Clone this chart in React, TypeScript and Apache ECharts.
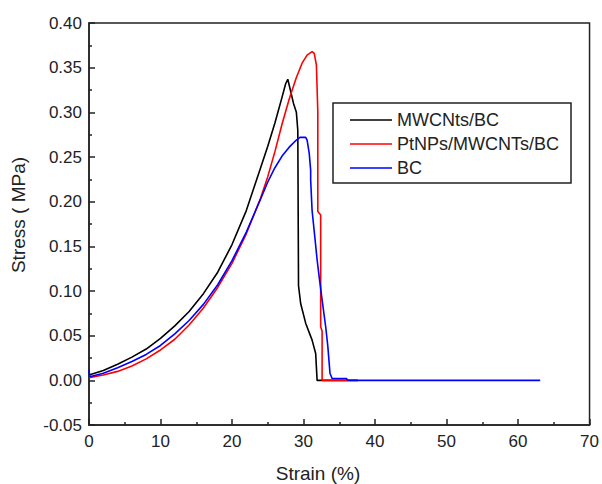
import React, { useEffect, useRef } from "react";
import * as echarts from "echarts";

// Strain (%) / Stress (MPa) pairs
const mwcntsBC: [number, number][] = [
  [0, 0.006], [2, 0.011], [4, 0.018], [6, 0.026], [8, 0.035], [10, 0.047],
  [12, 0.061], [14, 0.077], [16, 0.097], [18, 0.121], [20, 0.152],
  [22, 0.19], [24, 0.238], [25, 0.262], [26, 0.288], [27, 0.317],
  [27.5, 0.332], [27.8, 0.337], [28.1, 0.327], [28.6, 0.31], [29.0, 0.3],
  [29.2, 0.28], [29.3, 0.106], [29.6, 0.086], [30.3, 0.064], [31.2, 0.045],
  [31.7, 0.03], [31.9, 0.0], [37.6, 0.0],
];

const ptnpsMWCNTsBC: [number, number][] = [
  [0, 0.003], [2, 0.006], [4, 0.01], [6, 0.016], [8, 0.024], [10, 0.034],
  [12, 0.046], [14, 0.062], [16, 0.081], [18, 0.104], [20, 0.131],
  [22, 0.164], [24, 0.204], [25, 0.228], [26, 0.256], [27, 0.287],
  [28, 0.315], [29, 0.339], [29.8, 0.355], [30.5, 0.364], [31.2, 0.368],
  [31.5, 0.366], [31.8, 0.353], [32.0, 0.3], [32.0, 0.189], [32.4, 0.185],
  [32.4, 0.06], [32.6, 0.055], [32.6, 0.0], [36.2, 0.0],
];

const bc: [number, number][] = [
  [0, 0.012], [0.1, 0.004], [2, 0.008], [4, 0.014], [6, 0.021], [8, 0.029],
  [10, 0.039], [12, 0.052], [14, 0.067], [16, 0.085], [18, 0.107],
  [20, 0.134], [22, 0.166], [24, 0.203], [25, 0.222], [26, 0.238],
  [27, 0.251], [28, 0.261], [29, 0.269], [29.5, 0.272], [30.3, 0.272],
  [30.5, 0.269], [30.8, 0.254], [31.0, 0.235], [31.0, 0.224], [31.2, 0.19],
  [31.6, 0.159], [31.9, 0.135], [32.2, 0.115], [32.6, 0.09], [33.1, 0.06],
  [33.4, 0.038], [33.7, 0.008], [34.0, 0.002], [36.0, 0.002], [36.2, 0.0],
  [63.1, 0.0],
];

const seriesNames = ["MWCNts/BC", "PtNPs/MWCNTs/BC", "BC"];
const seriesColors = ["#000000", "#ff0000", "#0000ff"];
const xTitle = "Strain (%)";
const yTitle = "Stress ( MPa)";

const FONT = "Arial, 'Liberation Sans', sans-serif";

export default function App() {
  const ref = useRef<HTMLDivElement>(null);
  useEffect(() => {
    document.body.style.margin = "0";
    const chart = echarts.init(ref.current!, null, { renderer: "svg" });
    const datasets = [mwcntsBC, ptnpsMWCNTsBC, bc];
    chart.setOption({
      animation: false,
      backgroundColor: "#ffffff",
      grid: {
        left: 89,
        top: 23,
        right: 10,
        bottom: 59,
        show: true,
        borderColor: "#222",
        borderWidth: 1.5,
        backgroundColor: "transparent",
      },
      legend: {
        orient: "vertical",
        left: 333,
        top: 103,
        padding: [8, 12, 6, 17],
        itemGap: 6,
        itemWidth: 42,
        itemHeight: 1.6,
        icon: "rect",
        borderColor: "#222",
        borderWidth: 1.5,
        textStyle: { fontSize: 18, fontFamily: FONT, color: "#222", lineHeight: 18 },
        data: seriesNames,
      },
      xAxis: {
        type: "value",
        min: 0,
        max: 70,
        interval: 10,
        axisLine: { show: true, onZero: false, lineStyle: { color: "#222", width: 1.5 } },
        axisTick: { show: true, inside: true, length: 6, lineStyle: { color: "#222", width: 1.5 } },
        minorTick: { show: true, splitNumber: 2, length: 3, lineStyle: { color: "#222", width: 1.5 } },
        splitLine: { show: false },
        axisLabel: { fontSize: 17, fontFamily: FONT, color: "#222", margin: 8 },
      },
      yAxis: {
        type: "value",
        min: -0.05,
        max: 0.4,
        interval: 0.05,
        axisLine: { show: true, onZero: false, lineStyle: { color: "#222", width: 1.5 } },
        axisTick: { show: true, inside: true, length: 6, lineStyle: { color: "#222", width: 1.5 } },
        minorTick: { show: true, splitNumber: 2, length: 3, lineStyle: { color: "#222", width: 1.5 } },
        splitLine: { show: false },
        axisLabel: {
          fontSize: 17,
          fontFamily: FONT,
          color: "#222",
          margin: 7,
          formatter: (v: number) => v.toFixed(2),
        },
      },
      graphic: [
        {
          type: "text",
          x: 318,
          y: 473,
          style: {
            text: xTitle,
            fontSize: 19,
            fontFamily: FONT,
            fill: "#222",
            align: "center",
            verticalAlign: "middle",
          },
        },
        {
          type: "text",
          x: 18,
          y: 215,
          rotation: Math.PI / 2,
          style: {
            text: yTitle,
            fontSize: 19,
            fontFamily: FONT,
            fill: "#222",
            align: "center",
            verticalAlign: "middle",
          },
        },
      ],
      series: datasets.map((d, i) => ({
        name: seriesNames[i],
        type: "line",
        data: d,
        symbol: "none",
        showSymbol: false,
        smooth: false,
        color: seriesColors[i],
        lineStyle: { color: seriesColors[i], width: 1.6 },
      })),
    });
    return () => chart.dispose();
  }, []);
  return (
    <div
      ref={ref}
      style={{ position: "fixed", left: 0, top: 0, width: 602, height: 484 }}
    />
  );
}
